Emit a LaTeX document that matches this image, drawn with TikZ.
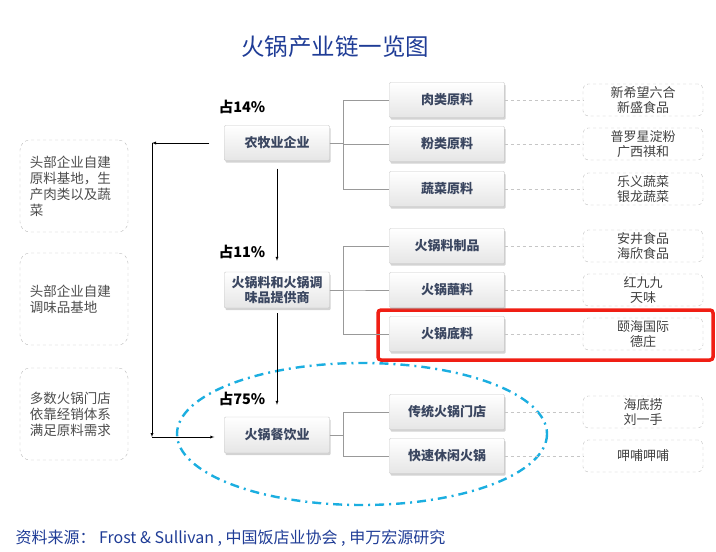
\documentclass[tikz,border=0pt]{standalone}
\usepackage{fontspec}
\setmainfont{Noto Sans CJK SC}
\usepackage{tikz}
\usetikzlibrary{shapes}
\usetikzlibrary{shadows}
\usetikzlibrary{arrows}
\definecolor{titleblue}{HTML}{1F3C96}
\definecolor{boxtext}{HTML}{3A4660}
\definecolor{ringcyan}{HTML}{1BAEE0}
\definecolor{hlred}{HTML}{F01E14}
\tikzset{stagebox/.style={draw=gray!45, rounded corners=1pt, top color=white, bottom color=gray!20,
    drop shadow={opacity=0.35, shadow xshift=1pt, shadow yshift=-2pt},
    text=boxtext, font=\fontsize{13}{15}\selectfont\bfseries, align=center, inner sep=1pt}}
\tikzset{notebox/.style={draw=gray!55, dashed, rounded corners=5pt, text=black!75, align=center,
    font=\fontsize{13}{14.5}\selectfont, minimum width=120pt, minimum height=32pt, inner sep=1pt}}
\tikzset{sidebox/.style={draw=gray!55, dashed, rounded corners=10pt, text=black!70, align=left,
    font=\fontsize{13.5}{16}\selectfont, minimum width=108pt, text width=88pt}}
\tikzset{share/.style={font=\fontsize{14.5}{16}\selectfont\bfseries}}
\tikzset{branch/.style={draw=gray!80, thin}}
\tikzset{link/.style={draw=gray!45, dashed, thin}}

\begin{document}
\begin{tikzpicture}[x=1pt,y=-1pt]
  \useasboundingbox (0,0) rectangle (716,552);
  \node[text=titleblue, font=\fontsize{23.5}{25}\selectfont] (title) at (335,47) {火锅产业链一览图};
  % ring round the restaurants
  \draw[ringcyan, line width=2.4pt, dash pattern=on 9pt off 5pt on 2pt off 5pt]
    (362,434) ellipse [x radius=185, y radius=71];
  % the three stages
  \node[stagebox, minimum width=105pt, minimum height=35pt] (nm) at (277,143) {农牧业企业};
  \node[stagebox, minimum width=105pt, minimum height=36pt] (fl) at (277,290) {火锅料和火锅调\\味品提供商};
  \node[stagebox, minimum width=105pt, minimum height=36pt] (cy) at (277,435) {火锅餐饮业};
  \node[share] (p1) at (242,107) {占14\%};
  \node[share] (p2) at (242,252) {占11\%};
  \node[share] (p3) at (242,399) {占75\%};
  % side notes
  \node[sidebox, minimum height=92pt] (s1) at (74,186) {头部企业自建\\原料基地，生\\产肉类以及蔬\\菜};
  \node[sidebox, minimum height=92pt] (s2) at (74,299) {头部企业自建\\调味品基地};
  \node[sidebox, minimum height=92pt] (s3) at (74,414) {多数火锅门店\\依靠经销体系\\满足原料需求};
  % highlight
  \node[draw=hlred, line width=3.5pt, rounded corners=3pt, minimum width=335pt, minimum height=50pt] (hl) at (545.5,335) {};
  % products and companies
  \foreach \y/\lab/\txt/\co in {
    100/1/肉类原料/{新希望六合\\新盛食品},
    144/2/粉类原料/{普罗星淀粉\\广西祺和},
    189/3/蔬菜原料/{乐义蔬菜\\银龙蔬菜},
    246/4/火锅料制品/{安井食品\\海欣食品},
    290/5/火锅蘸料/{红九九\\天味},
    334/6/火锅底料/{颐海国际\\德庄},
    412/7/传统火锅门店/{海底捞\\刘一手},
    456/8/快速休闲火锅/{呷哺呷哺}%
  } {
    \node[stagebox, minimum width=115pt, minimum height=35pt] (m\lab) at (447,\y) {\txt};
    \node[notebox] (r\lab) at (643,\y) {\co};
    \draw[link] (m\lab.east) -- (r\lab.west);
  }
  \foreach \u/\v in {nm/m1, nm/m2, nm/m3, fl/m4, fl/m5, fl/m6, cy/m7, cy/m8} {
    \draw[branch] (\u.east) -- ++(13,0) |- (\v.west);
  }
  % flow arrows
  \draw[-latex, shorten <=8pt, shorten >=11pt] (nm.south) -- (fl.north);
  \draw[-latex, shorten <=5pt, shorten >=12pt] (fl.south) -- (cy.north);
  \coordinate (c1) at (152,143);
  \coordinate (c2) at (152,437);
  \draw[-latex, shorten <=15pt] (nm.west) -- (c1);
  \draw[-latex] (c1) -- (c2);
  \draw[-latex, shorten >=10pt] (c2) -- (c2 -| cy.west);
  \node[anchor=west, text=titleblue, font=\fontsize{16}{18}\selectfont] (src) at (12,538)
    {资料来源： Frost \& Sullivan , 中国饭店业协会 , 申万宏源研究};
\end{tikzpicture}
\end{document}
